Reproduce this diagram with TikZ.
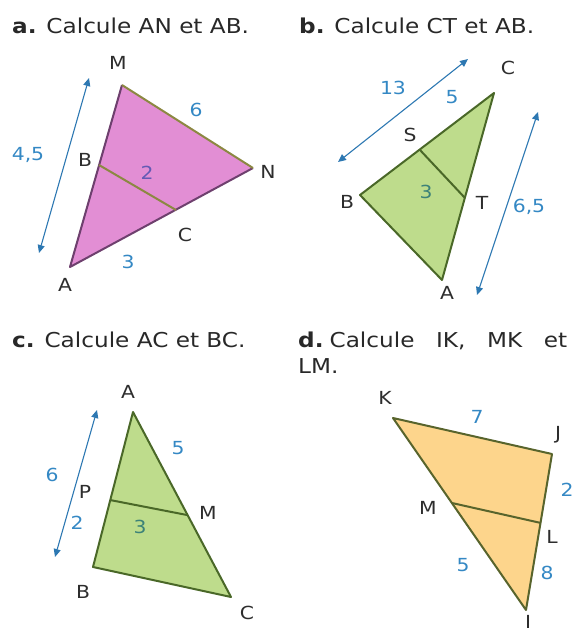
\documentclass[tikz,border=0pt]{standalone}
\usepackage{fontspec}
\setmainfont{DejaVu Sans}[FakeStretch=1.13]
\usetikzlibrary{arrows.meta}

\definecolor{titregris}{RGB}{40,40,40}
\definecolor{pointgris}{RGB}{45,45,45}
\definecolor{cotebleu}{RGB}{52,136,196}
\definecolor{flechebleu}{RGB}{45,120,178}
\definecolor{rose}{RGB}{226,142,212}
\definecolor{roseborde}{RGB}{110,64,110}
\definecolor{olivebord}{RGB}{140,136,66}
\definecolor{vertclair}{RGB}{190,220,140}
\definecolor{vertborde}{RGB}{74,104,40}
\definecolor{orangeclair}{RGB}{253,213,140}
\definecolor{orangeborde}{RGB}{88,100,44}

\begin{document}
\begin{tikzpicture}[x=1pt, y=-1pt,
        titre/.style={anchor=base west, inner sep=0pt, text=titregris,
                font=\fontsize{20.5}{26}\selectfont},
        sommet/.style={inner sep=0pt, text=pointgris,
                font=\fontsize{18}{18}\selectfont},
        mesure/.style={inner sep=0pt, text=cotebleu,
                font=\fontsize{18}{18}\selectfont},
        cote/.style={{Triangle[length=8pt,width=7pt]}-{Triangle[length=8pt,width=7pt]},
                line width=1.1pt, draw=flechebleu},
        bord/.style={line width=2pt, line join=round}
    ]
    \useasboundingbox (0,0) rectangle (577,633);

    % ---------------------------------------------------------------
    % a. triangle AMN
    % ---------------------------------------------------------------
    \node[titre] (titreA) at (12,33) {\textbf{a.} Calcule AN et AB.};
    \coordinate (aM) at (122,85);
    \coordinate (aN) at (253,168);
    \coordinate (aA) at (70,267);
    \coordinate (aB) at (99,165);
    \coordinate (aC) at (176,210);
    \fill[rose] (aA) -- (aM) -- (aN) -- cycle;
    \draw[bord, draw=roseborde] (aM) -- (aA) -- (aN);
    \draw[bord, draw=olivebord] (aM) -- (aN);
    \draw[bord, draw=olivebord] (aB) -- (aC);
    % double arrow
    \coordinate (aHaut) at (89,78);
    \coordinate (aBas) at (39,253);
    \draw[cote] (aHaut) -- (aBas);
    % letters
    \node[sommet] (lM) at (118,63) {M};
    \node[sommet] (lN) at (268,172) {N};
    \node[sommet] (lB) at (85,160) {B};
    \node[sommet] (lC) at (185,235) {C};
    \node[sommet] (lA) at (65,285) {A};
    % lengths
    \node[mesure] (mMN) at (196,110) {6};
    \node[mesure, text={rgb,255:red,100;green,90;blue,180}] (mBC) at (147,173) {2};
    \node[mesure] (mAC) at (128,262) {3};
    \node[mesure] (mAM) at (28,155) {4,5};

    % ---------------------------------------------------------------
    % b. triangle ABC
    % ---------------------------------------------------------------
    \node[titre] (titreB) at (299,33) {\textbf{b.} Calcule CT et AB.};
    \coordinate (bC) at (494,93);
    \coordinate (bB) at (360,195);
    \coordinate (bA) at (442,280);
    \coordinate (bS) at (420,150);
    \coordinate (bT) at (465,198);
    \fill[vertclair] (bA) -- (bB) -- (bC) -- cycle;
    \draw[bord, draw=vertborde] (bA) -- (bB) -- (bC) -- cycle;
    \draw[bord, draw=vertborde] (bS) -- (bT);
    % double arrows
    \coordinate (bHaut) at (468,59);
    \coordinate (bGauche) at (338,162);
    \draw[cote] (bHaut) -- (bGauche);
    \coordinate (bHaut2) at (538,112);
    \coordinate (bBas2) at (477,295);
    \draw[cote] (bHaut2) -- (bBas2);
    % letters
    \node[sommet] (lbC) at (508,68) {C};
    \node[sommet] (lbS) at (410,135) {S};
    \node[sommet] (lbB) at (347,202) {B};
    \node[sommet] (lbT) at (482,203) {T};
    \node[sommet] (lbA) at (447,293) {A};
    % lengths
    \node[mesure] (mBC13) at (393,88) {13};
    \node[mesure] (mSC) at (452,97) {5};
    \node[mesure, text={rgb,255:red,60;green,130;blue,120}] (mST) at (426,192) {3};
    \node[mesure] (mAC65) at (529,207) {6,5};

    % ---------------------------------------------------------------
    % c. triangle ABC
    % ---------------------------------------------------------------
    \node[titre] (titreC) at (12,347) {\textbf{c.} Calcule AC et BC.};
    \coordinate (cA) at (133,412);
    \coordinate (cB) at (93,567);
    \coordinate (cC) at (231,597);
    \coordinate (cP) at (110,500);
    \coordinate (cM) at (187,515);
    \fill[vertclair] (cA) -- (cB) -- (cC) -- cycle;
    \draw[bord, draw=vertborde] (cA) -- (cB) -- (cC) -- cycle;
    \draw[bord, draw=vertborde] (cP) -- (cM);
    % double arrow
    \coordinate (cHaut) at (97,410);
    \coordinate (cBas) at (55,557);
    \draw[cote] (cHaut) -- (cBas);
    % letters
    \node[sommet] (lcA) at (128,392) {A};
    \node[sommet] (lcP) at (85,492) {P};
    \node[sommet] (lcM) at (208,513) {M};
    \node[sommet] (lcB) at (83,592) {B};
    \node[sommet] (lcC) at (247,613) {C};
    % lengths
    \node[mesure] (mAM5) at (178,448) {5};
    \node[mesure] (mAB6) at (52,475) {6};
    \node[mesure] (mPB) at (77,523) {2};
    \node[mesure, text={rgb,255:red,60;green,130;blue,120}] (mPM) at (140,527) {3};

    % ---------------------------------------------------------------
    % d. triangle IJK
    % ---------------------------------------------------------------
    \node[titre, text width=269pt, align=justify] (titreD) at (298,347)
        {\textbf{d.}\hspace{6pt}Calcule IK, MK et\linebreak LM.};
    \coordinate (dK) at (393,418);
    \coordinate (dJ) at (552,454);
    \coordinate (dI) at (526,610);
    \coordinate (dM) at (452,503);
    \coordinate (dL) at (541,523);
    \fill[orangeclair] (dK) -- (dJ) -- (dI) -- cycle;
    \draw[bord, draw=orangeborde] (dK) -- (dJ) -- (dI) -- cycle;
    \draw[bord, draw=orangeborde] (dM) -- (dL);
    % letters
    \node[sommet] (ldK) at (385,398) {K};
    \node[sommet] (ldJ) at (558,435) {J};
    \node[sommet] (ldM) at (428,508) {M};
    \node[sommet] (ldL) at (552,537) {L};
    \node[sommet] (ldI) at (528,622) {I};
    % lengths
    \node[mesure] (mKJ) at (477,417) {7};
    \node[mesure] (mJL) at (567,490) {2};
    \node[mesure] (mMI) at (463,565) {5};
    \node[mesure] (mLI) at (547,573) {8};
\end{tikzpicture}
\end{document}
